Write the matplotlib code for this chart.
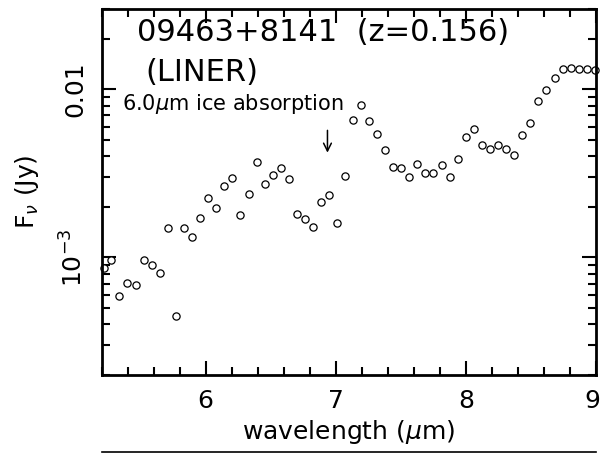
import matplotlib
matplotlib.use("Agg")
import matplotlib.pyplot as plt
import matplotlib.transforms as mtransforms
from matplotlib.ticker import FixedLocator, NullFormatter, MultipleLocator, FixedFormatter
from matplotlib.lines import Line2D

plt.rcParams['font.family'] = ['DejaVu Sans']
plt.rcParams['mathtext.fontset'] = 'dejavusans'

wavelength = [5.218, 5.272, 5.336, 5.398, 5.462, 5.524, 5.587, 5.649, 5.710, 5.772,
              5.833, 5.895, 5.959, 6.020, 6.082, 6.143, 6.205, 6.266, 6.331, 6.392,
              6.454, 6.515, 6.577, 6.638, 6.702, 6.763, 6.825, 6.886, 6.948, 7.009,
              7.071, 7.135, 7.196, 7.258, 7.319, 7.381, 7.442, 7.504, 7.565, 7.627,
              7.688, 7.750, 7.814, 7.876, 7.937, 7.999, 8.062, 8.124, 8.185, 8.247,
              8.308, 8.370, 8.434, 8.495, 8.557, 8.618, 8.683, 8.744, 8.806, 8.867,
              8.929, 8.990]
flux = [8.61e-4, 9.64e-4, 5.88e-4, 7.05e-4, 6.89e-4, 9.60e-4, 9.04e-4, 8.11e-4, 1.49e-3, 4.48e-4,
        1.49e-3, 1.32e-3, 1.71e-3, 2.26e-3, 1.96e-3, 2.66e-3, 2.97e-3, 1.79e-3, 2.38e-3, 3.68e-3,
        2.75e-3, 3.10e-3, 3.42e-3, 2.92e-3, 1.82e-3, 1.69e-3, 1.51e-3, 2.14e-3, 2.35e-3, 1.60e-3,
        3.04e-3, 6.61e-3, 8.04e-3, 6.52e-3, 5.46e-3, 4.33e-3, 3.47e-3, 3.42e-3, 3.00e-3, 3.60e-3,
        3.20e-3, 3.17e-3, 3.56e-3, 2.99e-3, 3.87e-3, 5.20e-3, 5.82e-3, 4.66e-3, 4.42e-3, 4.66e-3,
        4.43e-3, 4.05e-3, 5.36e-3, 6.34e-3, 8.49e-3, 9.87e-3, 1.16e-2, 1.32e-2, 1.34e-2, 1.32e-2,
        1.32e-2, 1.31e-2]

x_major = [6, 7, 8, 9]
x_major_labels = ['6', '7', '8', '9']
y_major = [1e-3, 1e-2]
y_major_labels = [r'$10^{-3}$', '0.01']
title = '09463+8141  (z=0.156)'
subtitle = '(LINER)'
annot = r'6.0$\mu$m ice absorption'
annot_text_x = 5.357
annot_text_y = 7.5e-3
arrow_x = 6.936
arrow_y_top = 5.7e-3
arrow_y_tip = 4.2e-3

fig = plt.figure(figsize=(6.02, 4.54), dpi=100)
ax = fig.add_axes([0.1688, 0.174, 0.8212, 0.806])
ax.plot(wavelength, flux, linestyle='none', marker='o', markersize=5.2,
        markerfacecolor='white', markeredgecolor='black', markeredgewidth=0.9, clip_on=False)
ax.set_yscale('log')
ax.set_xlim(5.2, 9.0)
ax.set_ylim(2e-4, 0.03)

ax.xaxis.set_major_locator(FixedLocator(x_major))
ax.xaxis.set_major_formatter(FixedFormatter(x_major_labels))
ax.xaxis.set_minor_locator(MultipleLocator(0.2))
ax.yaxis.set_major_locator(FixedLocator(y_major))
ax.yaxis.set_major_formatter(FixedFormatter(y_major_labels))
minor_y = [m * 10.0**e for e in (-4, -3, -2) for m in range(2, 10)]
ax.yaxis.set_minor_locator(FixedLocator(minor_y))
ax.yaxis.set_minor_formatter(NullFormatter())

ax.tick_params(which='both', direction='in', top=True, right=True, width=1.5)
ax.tick_params(which='major', length=10, labelsize=18, pad=10)
ax.tick_params(which='minor', length=6)
for lab in ax.get_yticklabels():
    lab.set_rotation(90)
    lab.set_va('center')
for s in ax.spines.values():
    s.set_linewidth(2)

fig.canvas.draw()
xl = ax.get_xticklabels()
xl[-1].set_transform(xl[-1].get_transform() + mtransforms.ScaledTranslation(-4 / 100, 0, fig.dpi_scale_trans))

ax.set_xlabel(r'wavelength ($\mu$m)', fontsize=18, labelpad=4)
ax.set_ylabel(r'F$_\nu$ (Jy)', fontsize=18, labelpad=14)

ax.text(0.072, 0.975, title, transform=ax.transAxes, fontsize=22, va='top', ha='left')
ax.text(0.088, 0.865, subtitle, transform=ax.transAxes, fontsize=22, va='top', ha='left')
ax.text(annot_text_x, annot_text_y, annot, fontsize=15, ha='left', va='baseline')
ax.annotate('', xy=(arrow_x, arrow_y_tip), xytext=(arrow_x, arrow_y_top),
            arrowprops=dict(arrowstyle='->', color='black', lw=1.1, shrinkA=0, shrinkB=0,
                            mutation_scale=14))

fig.add_artist(Line2D([0.1688, 0.99], [0.004, 0.004], color='black', lw=1.2, transform=fig.transFigure))

fig.savefig('out.png', dpi=100)
